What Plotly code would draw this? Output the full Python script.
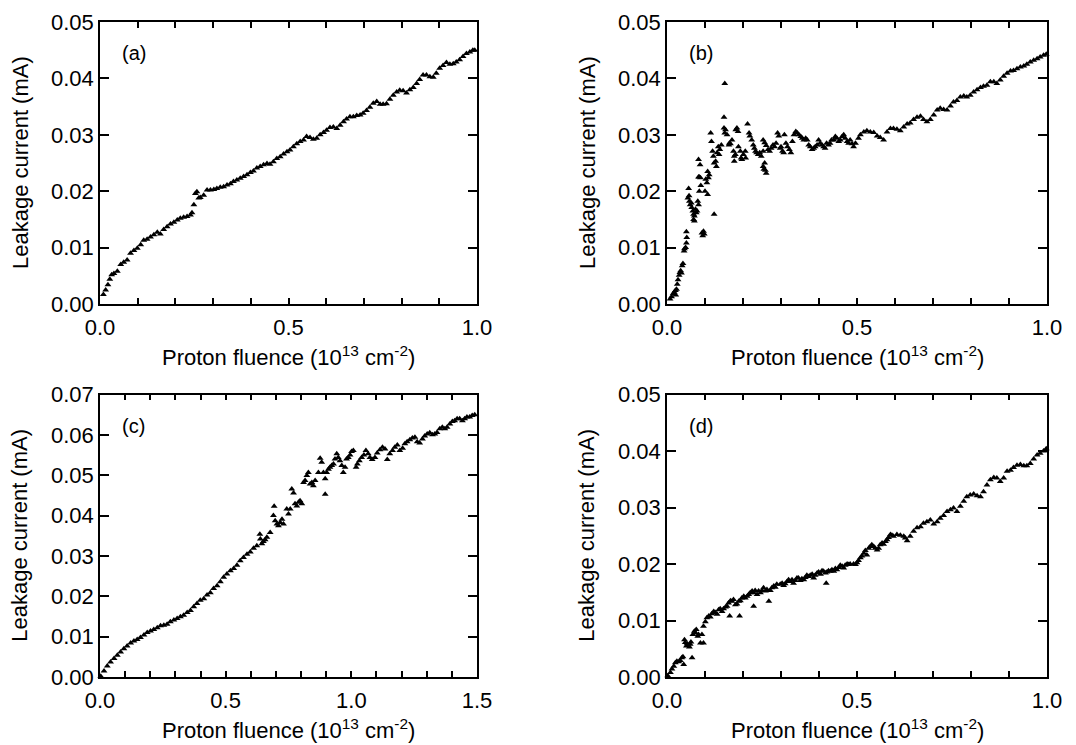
import plotly.graph_objects as go

# ---------------- data ----------------
a_x = [0.009,0.015,0.021,0.026,0.031,0.037,0.046,0.055,0.063,0.072,
       0.081,0.090,0.099,0.108,0.116,0.125,0.134,0.143,0.152,0.160,
       0.169,0.178,0.187,0.196,0.205,0.213,0.222,0.231,0.240,0.244,
       0.249,0.253,0.257,0.262,0.266,0.275,0.284,0.293,0.302,0.310,
       0.319,0.328,0.337,0.346,0.354,0.363,0.372,0.381,0.390,0.399,
       0.407,0.416,0.425,0.434,0.443,0.451,0.460,0.469,0.478,0.487,
       0.496,0.504,0.513,0.522,0.531,0.540,0.548,0.557,0.566,0.575,
       0.584,0.593,0.601,0.610,0.619,0.628,0.637,0.646,0.654,0.663,
       0.672,0.681,0.690,0.698,0.707,0.716,0.725,0.734,0.743,0.751,
       0.760,0.769,0.778,0.787,0.795,0.804,0.813,0.822,0.831,0.840,
       0.848,0.857,0.866,0.875,0.884,0.892,0.901,0.910,0.919,0.928,
       0.937,0.945,0.954,0.963,0.972,0.981,0.989,0.994]
a_y = [0.0017,0.0025,0.0034,0.0044,0.0052,0.0054,0.0058,0.0070,0.0074,0.0078,
       0.0090,0.0095,0.0099,0.0105,0.0113,0.0115,0.0119,0.0123,0.0127,0.0124,
       0.0132,0.0137,0.0142,0.0145,0.0149,0.0152,0.0154,0.0155,0.0158,0.0162,
       0.0176,0.0196,0.0199,0.0188,0.0189,0.0193,0.0202,0.0202,0.0203,0.0205,
       0.0207,0.0208,0.0211,0.0213,0.0217,0.0220,0.0223,0.0226,0.0229,0.0233,
       0.0236,0.0241,0.0244,0.0247,0.0249,0.0248,0.0252,0.0258,0.0261,0.0266,
       0.0270,0.0273,0.0279,0.0284,0.0288,0.0291,0.0297,0.0295,0.0292,0.0294,
       0.0300,0.0304,0.0308,0.0313,0.0314,0.0311,0.0317,0.0323,0.0328,0.0332,
       0.0332,0.0334,0.0335,0.0338,0.0343,0.0349,0.0356,0.0359,0.0354,0.0354,
       0.0355,0.0363,0.0370,0.0376,0.0379,0.0378,0.0374,0.0380,0.0384,0.0391,
       0.0398,0.0406,0.0406,0.0403,0.0402,0.0409,0.0418,0.0423,0.0428,0.0425,
       0.0426,0.0429,0.0433,0.0439,0.0444,0.0447,0.0450,0.0450]

b_x = [0.008,0.012,0.016,0.019,0.022,0.025,0.023,0.027,0.029,0.032,
       0.034,0.036,0.038,0.040,0.042,0.045,0.046,0.049,0.051,0.052,
       0.051,0.055,0.058,0.057,0.059,0.061,0.064,0.065,0.068,0.070,
       0.072,0.070,0.072,0.075,0.077,0.079,0.081,0.083,0.085,0.083,
       0.087,0.083,0.085,0.088,0.089,0.092,0.094,0.096,0.098,0.100,
       0.102,0.105,0.107,0.109,0.107,0.111,0.115,0.117,0.120,0.122,
       0.124,0.128,0.130,0.124,0.132,0.137,0.139,0.135,0.143,0.150,
       0.152,0.150,0.152,0.154,0.158,0.163,0.164,0.167,0.171,0.175,
       0.177,0.180,0.177,0.181,0.184,0.187,0.188,0.193,0.195,0.197,
       0.201,0.206,0.207,0.212,0.216,0.218,0.223,0.227,0.230,0.233,
       0.236,0.240,0.244,0.248,0.253,0.253,0.255,0.259,0.261,0.257,
       0.253,0.257,0.261,0.266,0.270,0.274,0.279,0.283,0.287,0.291,
       0.294,0.298,0.300,0.304,0.307,0.309,0.313,0.317,0.322,0.326,
       0.330,0.334,0.339,0.343,0.347,0.352,0.356,0.360,0.365,0.369,
       0.373,0.377,0.382,0.386,0.390,0.395,0.399,0.403,0.408,0.412,
       0.416,0.420,0.425,0.429,0.433,0.439,0.443,0.447,0.452,0.456,
       0.461,0.465,0.469,0.474,0.478,0.482,0.487,0.491,0.496,
       0.504,0.509,0.518,0.526,0.535,0.544,0.553,0.561,0.570,0.579,
       0.588,0.596,0.605,0.614,0.623,0.632,0.640,0.649,0.658,0.667,
       0.675,0.684,0.693,0.702,0.711,0.719,0.728,0.737,0.746,0.754,
       0.763,0.772,0.781,0.789,0.798,0.807,0.816,0.825,0.833,0.842,
       0.851,0.860,0.868,0.877,0.886,0.895,0.904,0.912,0.921,0.930,
       0.939,0.947,0.956,0.965,0.974,0.982,0.991,0.998]
b_y = [0.0009,0.0013,0.0018,0.0021,0.0024,0.0026,0.0016,0.0035,0.0043,0.0051,
       0.0056,0.0059,0.0055,0.0068,0.0072,0.0094,0.0098,0.0100,0.0108,0.0118,
       0.0128,0.0188,0.0192,0.0205,0.0182,0.0176,0.0179,0.0171,0.0165,0.0159,
       0.0156,0.0150,0.0147,0.0168,0.0162,0.0165,0.0182,0.0176,0.0200,0.0256,
       0.0247,0.0225,0.0225,0.0224,0.0210,0.0126,0.0121,0.0129,0.0124,0.0200,
       0.0221,0.0215,0.0194,0.0224,0.0235,0.0229,0.0303,0.0288,0.0271,0.0262,
       0.0250,0.0253,0.0244,0.0159,0.0268,0.0265,0.0274,0.0279,0.0282,0.0331,
       0.0391,0.0312,0.0303,0.0309,0.0300,0.0282,0.0285,0.0284,0.0291,0.0271,
       0.0262,0.0265,0.0253,0.0309,0.0312,0.0306,0.0279,0.0271,0.0259,0.0256,
       0.0265,0.0271,0.0259,0.0319,0.0303,0.0298,0.0291,0.0282,0.0276,0.0271,
       0.0268,0.0265,0.0268,0.0262,0.0271,0.0244,0.0239,0.0237,0.0232,0.0250,
       0.0291,0.0286,0.0281,0.0274,0.0271,0.0276,0.0282,0.0279,0.0285,0.0303,
       0.0298,0.0276,0.0279,0.0271,0.0268,0.0300,0.0285,0.0279,0.0274,0.0268,
       0.0288,0.0300,0.0306,0.0303,0.0300,0.0297,0.0294,0.0291,0.0294,0.0291,
       0.0282,0.0279,0.0274,0.0276,0.0279,0.0282,0.0291,0.0285,0.0282,0.0279,
       0.0276,0.0285,0.0282,0.0285,0.0291,0.0291,0.0297,0.0294,0.0288,0.0291,
       0.0297,0.0300,0.0294,0.0288,0.0285,0.0291,0.0284,0.0279,0.0285,
       0.0294,0.0300,0.0305,0.0307,0.0305,0.0304,0.0298,0.0295,0.0291,0.0305,
       0.0311,0.0311,0.0310,0.0307,0.0314,0.0319,0.0321,0.0327,0.0331,0.0333,
       0.0327,0.0323,0.0327,0.0335,0.0344,0.0347,0.0345,0.0344,0.0351,0.0358,
       0.0361,0.0367,0.0369,0.0367,0.0370,0.0376,0.0380,0.0384,0.0386,0.0388,
       0.0394,0.0394,0.0391,0.0397,0.0404,0.0409,0.0413,0.0414,0.0417,0.0420,
       0.0422,0.0425,0.0429,0.0432,0.0435,0.0438,0.0441,0.0443]

c_x = [0.003,0.016,0.029,0.042,0.056,0.069,0.082,0.095,0.108,0.122,
       0.135,0.148,0.161,0.175,0.188,0.201,0.214,0.228,0.241,0.254,
       0.267,0.280,0.294,0.307,0.320,0.333,0.347,0.360,0.373,0.386,
       0.399,0.413,0.426,0.439,0.452,0.466,0.479,0.492,0.505,0.519,
       0.532,0.545,0.558,0.571,0.585,0.598,0.611,0.624,0.638,0.636,
       0.644,0.650,0.657,0.664,0.677,0.690,0.693,0.697,0.704,0.710,
       0.717,0.724,0.730,0.743,0.750,0.757,0.763,0.770,0.776,0.783,
       0.790,0.796,0.803,0.810,0.816,0.823,0.829,0.836,0.843,0.849,
       0.856,0.869,0.876,0.882,0.889,0.896,0.896,0.902,0.909,0.915,
       0.922,0.929,0.935,0.942,0.948,0.955,0.962,0.968,0.975,0.981,
       0.988,0.995,1.001,1.008,1.019,1.024,1.032,1.041,1.050,1.058,
       1.067,1.074,1.083,1.094,1.103,1.114,1.124,1.134,1.143,1.153,
       1.164,1.173,1.183,1.193,1.204,1.213,1.222,1.233,1.243,1.253,
       1.262,1.272,1.283,1.292,1.302,1.312,1.323,1.332,1.341,1.352,
       1.362,1.372,1.381,1.392,1.402,1.411,1.421,1.431,1.442,1.451,
       1.460,1.471,1.481,1.491]
c_y = [0.0002,0.0015,0.0027,0.0037,0.0046,0.0054,0.0062,0.0070,0.0077,0.0084,
       0.0089,0.0093,0.0098,0.0104,0.0110,0.0114,0.0118,0.0122,0.0127,0.0128,
       0.0131,0.0137,0.0141,0.0145,0.0149,0.0153,0.0160,0.0165,0.0174,0.0182,
       0.0190,0.0194,0.0203,0.0209,0.0219,0.0226,0.0236,0.0247,0.0255,0.0263,
       0.0269,0.0277,0.0288,0.0296,0.0304,0.0310,0.0319,0.0325,0.0342,0.0354,
       0.0330,0.0336,0.0340,0.0346,0.0358,0.0400,0.0423,0.0387,0.0379,0.0375,
       0.0383,0.0391,0.0379,0.0416,0.0404,0.0416,0.0466,0.0456,0.0429,0.0424,
       0.0433,0.0437,0.0429,0.0482,0.0487,0.0499,0.0507,0.0478,0.0482,0.0474,
       0.0487,0.0507,0.0542,0.0532,0.0507,0.0453,0.0491,0.0507,0.0515,0.0520,
       0.0524,0.0528,0.0540,0.0553,0.0544,0.0536,0.0524,0.0507,0.0520,0.0540,
       0.0544,0.0550,0.0559,0.0561,0.0520,0.0528,0.0536,0.0544,0.0550,0.0561,
       0.0553,0.0544,0.0539,0.0544,0.0555,0.0563,0.0569,0.0565,0.0539,0.0553,
       0.0561,0.0569,0.0575,0.0561,0.0567,0.0578,0.0583,0.0588,0.0592,0.0594,
       0.0583,0.0580,0.0590,0.0597,0.0602,0.0605,0.0600,0.0602,0.0606,0.0615,
       0.0619,0.0615,0.0619,0.0627,0.0633,0.0635,0.0640,0.0640,0.0635,0.0640,
       0.0644,0.0644,0.0648,0.0650]

d_x = [0.002,0.009,0.013,0.018,0.022,0.026,0.031,0.035,0.039,0.042,
       0.044,0.046,0.048,0.051,0.053,0.055,0.059,0.061,0.063,0.066,
       0.068,0.072,0.075,0.077,0.081,0.083,0.088,0.092,0.096,0.096,
       0.101,0.105,0.110,0.114,0.118,0.123,0.127,0.132,0.136,0.140,
       0.145,0.149,0.154,0.158,0.162,0.165,0.167,0.171,0.175,0.180,
       0.184,0.189,0.191,0.193,0.197,0.202,0.206,0.211,0.215,0.219,
       0.224,0.228,0.228,0.232,0.237,0.241,0.246,0.250,0.254,0.259,
       0.263,0.268,0.272,0.276,0.281,0.285,0.289,0.298,0.303,0.307,
       0.311,0.316,0.320,0.325,0.329,0.333,0.338,0.342,0.346,0.351,
       0.355,0.360,0.364,0.368,0.373,0.377,0.382,0.386,0.390,0.395,
       0.399,0.404,0.408,0.412,0.417,0.419,0.421,0.425,0.430,0.434,
       0.439,0.443,0.447,0.452,0.456,0.461,0.465,0.469,0.474,0.478,
       0.482,0.491,0.496,0.500,0.504,0.509,0.513,0.518,0.522,0.526,
       0.531,0.535,0.539,0.544,0.548,0.553,0.557,0.561,0.566,0.570,
       0.575,0.579,0.583,0.588,0.592,0.596,0.605,0.614,0.623,0.627,
       0.632,0.640,0.649,0.658,0.667,0.675,0.684,0.693,0.702,0.711,
       0.719,0.728,0.737,0.746,0.754,0.763,0.772,0.781,0.789,0.798,
       0.807,0.816,0.825,0.833,0.842,0.851,0.860,0.868,0.877,0.886,
       0.895,0.904,0.912,0.921,0.930,0.939,0.947,0.956,0.965,0.974,
       0.982,0.991,0.998]
d_y = [0.0002,0.0008,0.0014,0.0019,0.0025,0.0028,0.0027,0.0029,0.0034,0.0036,
       0.0022,0.0066,0.0061,0.0055,0.0059,0.0056,0.0053,0.0058,0.0062,0.0034,
       0.0075,0.0081,0.0078,0.0084,0.0072,0.0075,0.0060,0.0075,0.0060,0.0090,
       0.0098,0.0105,0.0108,0.0106,0.0112,0.0116,0.0114,0.0111,0.0119,0.0121,
       0.0116,0.0121,0.0124,0.0125,0.0131,0.0108,0.0135,0.0134,0.0137,0.0128,
       0.0129,0.0134,0.0108,0.0135,0.0140,0.0143,0.0140,0.0143,0.0146,0.0149,
       0.0152,0.0149,0.0125,0.0153,0.0146,0.0152,0.0149,0.0153,0.0158,0.0152,
       0.0155,0.0134,0.0153,0.0158,0.0161,0.0159,0.0164,0.0164,0.0166,0.0162,
       0.0165,0.0169,0.0172,0.0169,0.0172,0.0166,0.0171,0.0175,0.0175,0.0171,
       0.0174,0.0172,0.0176,0.0180,0.0178,0.0180,0.0182,0.0175,0.0180,0.0184,
       0.0186,0.0182,0.0188,0.0187,0.0184,0.0166,0.0186,0.0188,0.0187,0.0190,
       0.0187,0.0192,0.0190,0.0194,0.0198,0.0196,0.0193,0.0198,0.0200,0.0199,
       0.0200,0.0200,0.0199,0.0202,0.0206,0.0211,0.0214,0.0219,0.0224,0.0216,
       0.0228,0.0231,0.0234,0.0231,0.0228,0.0225,0.0228,0.0234,0.0237,0.0235,
       0.0240,0.0243,0.0247,0.0252,0.0251,0.0249,0.0252,0.0251,0.0249,0.0246,
       0.0241,0.0249,0.0258,0.0264,0.0266,0.0272,0.0275,0.0278,0.0271,0.0275,
       0.0281,0.0286,0.0293,0.0296,0.0299,0.0293,0.0302,0.0311,0.0319,0.0322,
       0.0324,0.0321,0.0319,0.0328,0.0340,0.0349,0.0353,0.0352,0.0346,0.0352,
       0.0364,0.0366,0.0371,0.0375,0.0376,0.0374,0.0374,0.0378,0.0386,0.0393,
       0.0396,0.0400,0.0404]

panel_labels = ["(a)", "(b)", "(c)", "(d)"]
y_title = "Leakage current (mA)"
x_title = "Proton fluence (10<sup>13</sup> cm<sup>-2</sup>)"

# labelled x ticks and the unlabelled (minor) ticks between them
x_ticks_1 = [0.0, 0.5, 1.0]
x_labels_1 = ["0.0", "0.5", "1.0"]
x_ticks_15 = [0.0, 0.5, 1.0, 1.5]
x_labels_15 = ["0.0", "0.5", "1.0", "1.5"]
x_minor_1 = [0.1, 0.2, 0.3, 0.4, 0.6, 0.7, 0.8, 0.9]
x_minor_15 = [0.1, 0.2, 0.3, 0.4, 0.6, 0.7, 0.8, 0.9, 1.1, 1.2, 1.3, 1.4]
y_ticks_5 = [0.0, 0.01, 0.02, 0.03, 0.04, 0.05]
y_ticks_7 = [0.0, 0.01, 0.02, 0.03, 0.04, 0.05, 0.06, 0.07]

# ---------------- figure ----------------
W, H = 1076, 745
FONT = "Liberation Sans, Arial, Helvetica, sans-serif"
TICK_SIZE = 22
TITLE_SIZE = 22
LABEL_SIZE = 20

# plot-area edges in pixels
left_cols = [(100, 477), (667, 1047)]
rows = [(22, 304), (394.5, 677)]


def xdom(c):
    return [left_cols[c][0] / W, left_cols[c][1] / W]


def ydom(r):
    return [1 - rows[r][1] / H, 1 - rows[r][0] / H]


fig = go.Figure()
series = [(a_x, a_y), (b_x, b_y), (c_x, c_y), (d_x, d_y)]
for i, (xs, ys) in enumerate(series):
    suffix = "" if i == 0 else str(i + 1)
    fig.add_trace(go.Scatter(
        x=xs, y=ys, mode="markers",
        marker=dict(symbol="triangle-up", size=6, color="black",
                    line=dict(width=0)),
        xaxis="x" + suffix, yaxis="y" + suffix, showlegend=False,
        cliponaxis=False))

common = dict(showline=True, linecolor="black", linewidth=1.5,
              mirror="ticks", ticks="inside", tickwidth=1.5,
              tickcolor="black", showgrid=False, zeroline=False,
              automargin=False,
              tickfont=dict(family=FONT, size=TICK_SIZE, color="black"))

layout_axes = {}
cfg = [
    (0, 0, [0, 1], x_ticks_1, x_labels_1, x_minor_1, [0, 0.05], y_ticks_5),
    (1, 0, [0, 1], x_ticks_1, x_labels_1, x_minor_1, [0, 0.05], y_ticks_5),
    (0, 1, [0, 1.5], x_ticks_15, x_labels_15, x_minor_15, [0, 0.07], y_ticks_7),
    (1, 1, [0, 1], x_ticks_1, x_labels_1, x_minor_1, [0, 0.05], y_ticks_5),
]
annotations = []
for i, (c, r, xr, xt, xl, xm, yr, yt) in enumerate(cfg):
    suffix = "" if i == 0 else str(i + 1)
    layout_axes["xaxis" + suffix] = dict(
        domain=xdom(c), anchor="y" + suffix, range=xr,
        tickmode="array", tickvals=xt, ticktext=xl, ticklen=6,
        ticklabelstandoff=3,
        minor=dict(tickmode="array", tickvals=xm, ticks="inside",
                   ticklen=6, tickwidth=1.5, tickcolor="black",
                   showgrid=False),
        **common)
    layout_axes["yaxis" + suffix] = dict(
        domain=ydom(r), anchor="x" + suffix, range=yr,
        tickmode="array", tickvals=yt, tickformat=".2f", ticklen=9,
        **common)
    # panel label
    annotations.append(dict(
        text=panel_labels[i], xref="x" + suffix + " domain",
        yref="y" + suffix + " domain", x=0.053, y=0.89,
        xanchor="left", yanchor="middle", showarrow=False,
        font=dict(family=FONT, size=LABEL_SIZE, color="black")))
    x0, x1 = left_cols[c]
    y0, y1 = rows[r]
    # y-axis title
    annotations.append(dict(
        text=y_title, xref="paper", yref="paper",
        x=(x0 - 80) / W, y=1 - (y0 + y1) / 2 / H, textangle=-90,
        xanchor="center", yanchor="middle", showarrow=False,
        font=dict(family=FONT, size=TITLE_SIZE, color="black")))
    # x-axis title
    annotations.append(dict(
        text=x_title, xref="paper", yref="paper",
        x=(x0 + x1) / 2 / W, y=1 - (y1 + 52) / H,
        xanchor="center", yanchor="middle", showarrow=False,
        font=dict(family=FONT, size=TITLE_SIZE, color="black")))

fig.update_layout(
    width=W, height=H, margin=dict(l=0, r=0, t=0, b=0),
    paper_bgcolor="white", plot_bgcolor="white",
    font=dict(family=FONT, size=TITLE_SIZE, color="black"),
    annotations=annotations, **layout_axes)

fig.write_html("out.html",
               config={"displayModeBar": False},
               post_script="document.body.style.margin='0';")
